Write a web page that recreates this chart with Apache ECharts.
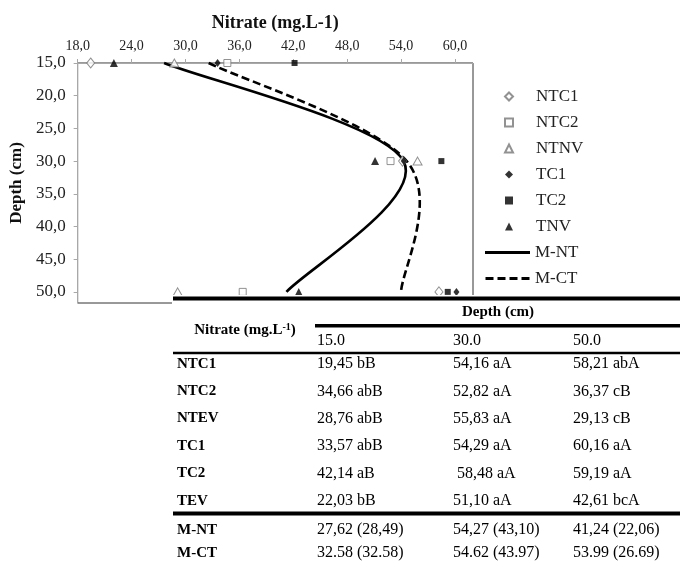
<!DOCTYPE html>
<html><head><meta charset="utf-8">
<script src="https://cdn.jsdelivr.net/npm/echarts@6/dist/echarts.min.js"></script>
<style>html,body{margin:0;padding:0;background:#fff}#c{width:680px;height:561px}</style>
</head><body><div id="c"></div>
<script>
// ---------- data ----------
const depths = [15, 30, 50];
const xTicks = [18, 24, 30, 36, 42, 48, 54, 60];
const yTicks = [15, 20, 25, 30, 35, 40, 45, 50];
const NTC1 = [19.45, 54.16, 58.21];
const NTC2 = [34.66, 52.82, 36.37];
const NTNV = [28.76, 55.83, 29.13];
const TC1 = [33.57, 54.29, 60.16];
const TC2 = [42.14, 58.48, 59.19];
const TNV = [22.03, 51.10, 42.61];
const M_NT = [27.62, 54.27, 41.24];
const M_CT = [32.58, 54.62, 53.99];
const pointNames = ['NTC1', 'NTC2', 'NTNV', 'TC1', 'TC2', 'TNV'];
const curveNames = ['M-NT', 'M-CT'];

const tableTitle = 'Nitrate (mg.L{sup|-1})';
const tableGroupHeader = 'Depth (cm)';
const tableDepthHeaders = ['15.0', '30.0', '50.0'];
const tableRowNames = ['NTC1', 'NTC2', 'NTEV', 'TC1', 'TC2', 'TEV'];
const tableCol15 = ['19,45 bB', '34,66 abB', '28,76 abB', '33,57 abB', '42,14 aB', '22,03 bB'];
const tableCol30 = ['54,16 aA', '52,82 aA', '55,83 aA', '54,29 aA', ' 58,48 aA', '51,10 aA'];
const tableCol50 = ['58,21 abA', '36,37 cB', '29,13 cB', '60,16 aA', '59,19 aA', '42,61 bcA'];
const meanRowNames = ['M-NT', 'M-CT'];
const meanCol15 = ['27,62 (28,49)', '32.58 (32.58)'];
const meanCol30 = ['54,27 (43,10)', '54.62 (43.97)'];
const meanCol50 = ['41,24 (22,06)', '53.99 (26.69)'];

// ---------- helpers ----------
const serif = "'Liberation Serif', 'Times New Roman', serif";
const toPts = vals => vals.map((v, i) => [v, depths[i]]);
const fmt = v => v.toFixed(1).replace('.', ',');

function scatter(name, vals, symbol, size, filled) {
  return {
    type: 'scatter', name, data: toPts(vals), symbol, symbolSize: size, z: 3,
    itemStyle: filled ? { color: '#000', borderWidth: 0 } : { color: '#fff', borderColor: '#777', borderWidth: 1 },
    emphasis: { disabled: true }
  };
}
// smoothed (Catmull-Rom style) curve through the mean points, positioned with api.coord
function curveSeries(name, vals, dashed) {
  const pts = toPts(vals);
  return {
    type: 'custom', name, data: pts, encode: { x: 0, y: 1 }, z: 2, silent: true,
    itemStyle: { color: '#000' },
    renderItem: function (params, api) {
      if (params.dataIndex !== 0) return null;
      const P = pts.map(p => api.coord(p));
      const n = P.length;
      const get = i => P[Math.max(0, Math.min(n - 1, i))];
      let d = 'M' + P[0][0] + ' ' + P[0][1];
      for (let i = 0; i < n - 1; i++) {
        const p0 = get(i - 1), p1 = get(i), p2 = get(i + 1), p3 = get(i + 2);
        const c1 = [p1[0] + (p2[0] - p0[0]) / 6, p1[1] + (p2[1] - p0[1]) / 6];
        const c2 = [p2[0] - (p3[0] - p1[0]) / 6, p2[1] - (p3[1] - p1[1]) / 6];
        d += ' C' + c1[0] + ' ' + c1[1] + ' ' + c2[0] + ' ' + c2[1] + ' ' + p2[0] + ' ' + p2[1];
      }
      return {
        type: 'path', shape: { pathData: d },
        style: { fill: 'none', stroke: '#000', lineWidth: 2.6, lineDash: dashed ? [8, 4] : null }
      };
    }
  };
}

// ---------- table (graphic) ----------
const G = [];
const rowY = [364, 391.5, 418.5, 446, 473.5, 501];
const meanY = [530, 553];
const colX = [317, 453, 573];
const labelX = 177;
function bar(x, y, w, h) { return { type: 'rect', shape: { x, y, width: w, height: h }, style: { fill: '#000' }, z: 101 }; }
function txt(x, y, s, bold, size, align, rich) {
  const st = { text: s, fill: '#000', font: (bold ? 'bold ' : '') + size + 'px ' + serif, textAlign: align || 'left', textVerticalAlign: 'middle' };
  if (rich) st.rich = rich;
  return { type: 'text', x, y, z: 102, style: st };
}
G.push({ type: 'rect', shape: { x: 172, y: 295, width: 508, height: 266 }, style: { fill: '#fff' }, z: 100 });
G.push(bar(173, 296.5, 507, 4));
G.push(bar(315, 324, 365, 3.5));
G.push(bar(173, 351.8, 507, 2.5));
G.push(bar(173, 511.5, 507, 4));
G.push(txt(245, 330, tableTitle, true, 15, 'center', {
  sup: { fontSize: 10, fontWeight: 'bold', fontFamily: serif, verticalAlign: 'top', padding: [0, 0, 6, 0] }
}));
G.push(txt(498, 312, tableGroupHeader, true, 15, 'center'));
tableDepthHeaders.forEach((h, i) => G.push(txt(colX[i], 341, h, false, 16)));
const cols = [tableCol15, tableCol30, tableCol50];
tableRowNames.forEach((n, r) => {
  G.push(txt(labelX, rowY[r], n, true, 15));
  cols.forEach((c, i) => G.push(txt(colX[i], rowY[r], c[r], false, 16)));
});
const mcols = [meanCol15, meanCol30, meanCol50];
meanRowNames.forEach((n, r) => {
  G.push(txt(labelX, meanY[r], n, true, 15));
  mcols.forEach((c, i) => G.push(txt(colX[i], meanY[r], c[r], false, 16)));
});

// ---------- chart ----------
const legendText = { fontFamily: serif, fontSize: 17, color: '#222' };
const chart = echarts.init(document.getElementById('c'), null, { renderer: 'canvas' });
chart.setOption({
  animation: false,
  backgroundColor: '#fff',
  grid: { left: 77, right: 207, top: 63, bottom: 258, show: true, borderColor: '#333', borderWidth: 1, containLabel: false },
  xAxis: {
    type: 'value', position: 'top', min: 18, max: 62,
    name: 'Nitrate (mg.L-1)', nameLocation: 'middle', nameGap: 31,
    nameTextStyle: { fontFamily: serif, fontWeight: 'bold', fontSize: 18, color: '#111' },
    axisLine: { show: true, onZero: false, lineStyle: { color: '#a8a8a8' } },
    axisTick: { show: true, length: 4, customValues: xTicks, lineStyle: { color: '#a8a8a8' } },
    axisLabel: { customValues: xTicks, formatter: fmt, fontFamily: serif, fontSize: 14, color: '#222', margin: 10 },
    splitLine: { show: false }
  },
  yAxis: {
    type: 'value', inverse: true, min: 15, max: 51.7,
    name: 'Depth (cm)', nameLocation: 'middle', nameGap: 50,
    nameTextStyle: { fontFamily: serif, fontWeight: 'bold', fontSize: 17, color: '#111' },
    axisLine: { show: true, onZero: false, lineStyle: { color: '#a8a8a8' } },
    axisTick: { show: true, length: 4, customValues: yTicks, lineStyle: { color: '#a8a8a8' } },
    axisLabel: { customValues: yTicks, formatter: fmt, fontFamily: serif, fontSize: 17, color: '#222', margin: 12 },
    splitLine: { show: false }
  },
  legend: [
    {
      data: pointNames, orient: 'vertical', left: 504, top: 88, padding: 0,
      itemWidth: 8, itemHeight: 8, itemGap: 9, selectedMode: false,
      textStyle: Object.assign({ padding: [0, 0, 0, 18] }, legendText)
    },
    {
      data: [
        { name: curveNames[0], icon: 'rect' },
        { name: curveNames[1], icon: 'path://M0,0h8v3h-8z M12,0h8v3h-8z M24,0h8v3h-8z M36,0h8v3h-8z' }
      ],
      orient: 'vertical', left: 485, top: 244, padding: 0,
      itemWidth: 45, itemHeight: 3, itemGap: 9, selectedMode: false,
      textStyle: legendText
    }
  ],
  series: [
    scatter('NTC1', NTC1, 'diamond', [8, 10], false),
    scatter('NTC2', NTC2, 'rect', 7, false),
    scatter('NTNV', NTNV, 'triangle', [9, 8], false),
    scatter('TC1', TC1, 'diamond', [6, 8], true),
    scatter('TC2', TC2, 'rect', 6, true),
    scatter('TNV', TNV, 'triangle', [8, 8], true),
    curveSeries('M-NT', M_NT, false),
    curveSeries('M-CT', M_CT, true)
  ],
  graphic: { elements: G }
});
</script></body></html>
